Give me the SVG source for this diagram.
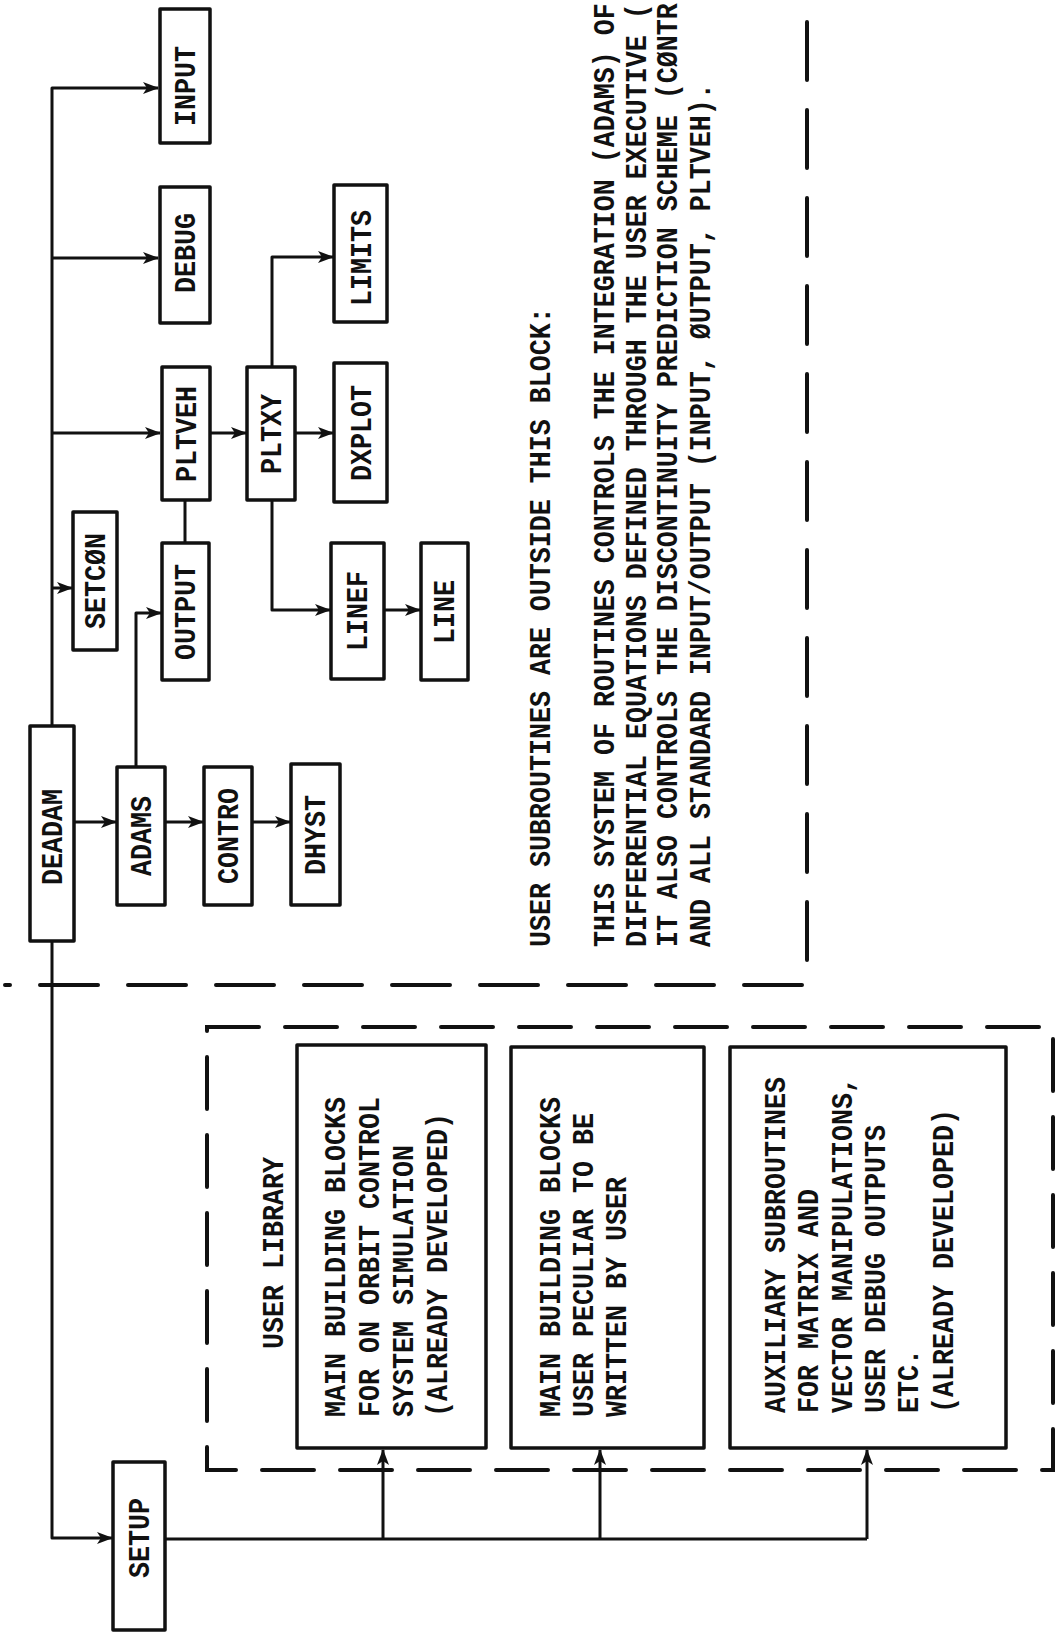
<svg xmlns="http://www.w3.org/2000/svg" width="1058" height="1635" viewBox="0 0 1058 1635">
<style>
.bg{fill:#ffffff}
.box{fill:#ffffff;stroke:#111;stroke-width:3.5;stroke-linejoin:round}
.ln{fill:none;stroke:#111;stroke-width:3;stroke-linejoin:round}
.dash{fill:none;stroke:#111;stroke-width:4;stroke-linecap:round;stroke-dasharray:58 30}
.dash2{fill:none;stroke:#111;stroke-width:4;stroke-linecap:round;stroke-dasharray:52 26}
.t{font-family:"Liberation Mono","DejaVu Sans Mono",monospace;font-size:26.667px;font-weight:bold;fill:#111}
.c{text-anchor:middle}
</style>
<defs>
<marker id="ah" markerUnits="userSpaceOnUse" markerWidth="16" markerHeight="12" refX="15" refY="6" orient="auto">
<path d="M0,0 L16,6 L0,12 L4,6 z" fill="#111"/>
</marker>
</defs>
<rect class="bg" x="0" y="0" width="1058" height="1635"/>

<g id="boundaries">
<path class="dash" d="M807,22 V985 H5"/>
<rect class="dash2" x="207" y="1027" width="846" height="443"/>
</g>

<g id="connectors">
<path class="ln" d="M52,726 V88 H158" marker-end="url(#ah)"/>
<path class="ln" d="M52,258 H158" marker-end="url(#ah)"/>
<path class="ln" d="M52,433 H160" marker-end="url(#ah)"/>
<path class="ln" d="M52,588 H72" marker-end="url(#ah)"/>
<path class="ln" d="M52,941 V1538 H112" marker-end="url(#ah)"/>
<path class="ln" d="M74,822 H116" marker-end="url(#ah)"/>
<path class="ln" d="M165,822 H203" marker-end="url(#ah)"/>
<path class="ln" d="M252,822 H290" marker-end="url(#ah)"/>
<path class="ln" d="M136,767 V613 H161" marker-end="url(#ah)"/>
<path class="ln" d="M185,543 V500"/>
<path class="ln" d="M210,433 H246" marker-end="url(#ah)"/>
<path class="ln" d="M272,367 V257 H333" marker-end="url(#ah)"/>
<path class="ln" d="M295,433 H333" marker-end="url(#ah)"/>
<path class="ln" d="M272,500 V610 H330" marker-end="url(#ah)"/>
<path class="ln" d="M384,610 H420" marker-end="url(#ah)"/>
<path class="ln" d="M165,1539 H867"/>
<path class="ln" d="M383,1539 V1450" marker-end="url(#ah)"/>
<path class="ln" d="M600,1539 V1450" marker-end="url(#ah)"/>
<path class="ln" d="M867,1539 V1450" marker-end="url(#ah)"/>
</g>

<g id="node-input"><rect class="box" x="160" y="9" width="50" height="134"/><text class="t c" transform="translate(195,86) rotate(-90) scale(1,1.13)">INPUT</text></g>
<g id="node-debug"><rect class="box" x="160" y="187" width="50" height="136"/><text class="t c" transform="translate(195,253) rotate(-90) scale(1,1.13)">DEBUG</text></g>
<g id="node-pltveh"><rect class="box" x="162" y="367" width="48" height="133"/><text class="t c" transform="translate(196,434) rotate(-90) scale(1,1.13)">PLTVEH</text></g>
<g id="node-pltxy"><rect class="box" x="247" y="367" width="48" height="133"/><text class="t c" transform="translate(281,434) rotate(-90) scale(1,1.13)">PLTXY</text></g>
<g id="node-limits"><rect class="box" x="334" y="185" width="53" height="137"/><text class="t c" transform="translate(371,258) rotate(-90) scale(1,1.13)">LIMITS</text></g>
<g id="node-dxplot"><rect class="box" x="334" y="363" width="53" height="139"/><text class="t c" transform="translate(371,433) rotate(-90) scale(1,1.13)">DXPLOT</text></g>
<g id="node-setcon"><rect class="box" x="73" y="512" width="44" height="138"/><text class="t c" transform="translate(105,581) rotate(-90) scale(1,1.13)">SETCØN</text></g>
<g id="node-output"><rect class="box" x="162" y="543" width="47" height="137"/><text class="t c" transform="translate(195,612) rotate(-90) scale(1,1.13)">OUTPUT</text></g>
<g id="node-linef"><rect class="box" x="331" y="543" width="53" height="136"/><text class="t c" transform="translate(367,611) rotate(-90) scale(1,1.13)">LINEF</text></g>
<g id="node-line"><rect class="box" x="421" y="543" width="47" height="137"/><text class="t c" transform="translate(454,612) rotate(-90) scale(1,1.13)">LINE</text></g>
<g id="node-deadam"><rect class="box" x="30" y="726" width="44" height="215"/><text class="t c" transform="translate(62,837) rotate(-90) scale(1,1.13)">DEADAM</text></g>
<g id="node-adams"><rect class="box" x="117" y="767" width="48" height="138"/><text class="t c" transform="translate(151,836) rotate(-90) scale(1,1.13)">ADAMS</text></g>
<g id="node-contro"><rect class="box" x="204" y="767" width="48" height="138"/><text class="t c" transform="translate(238,836) rotate(-90) scale(1,1.13)">CONTRO</text></g>
<g id="node-dhyst"><rect class="box" x="291" y="764" width="49" height="141"/><text class="t c" transform="translate(325,835) rotate(-90) scale(1,1.13)">DHYST</text></g>
<g id="node-setup"><rect class="box" x="113" y="1462" width="52" height="168"/><text class="t c" transform="translate(149,1538) rotate(-90) scale(1,1.13)">SETUP</text></g>

<g id="node-library-label"><text class="t" transform="translate(283,1349) rotate(-90) scale(1,1.13)">USER LIBRARY</text></g>

<g id="node-lib1"><rect class="box" x="297" y="1045" width="189" height="403"/>
<text class="t" transform="translate(345,1417) rotate(-90) scale(1,1.13)">MAIN BUILDING BLOCKS</text>
<text class="t" transform="translate(379,1417) rotate(-90) scale(1,1.13)">FOR ON ORBIT CONTROL</text>
<text class="t" transform="translate(413,1417) rotate(-90) scale(1,1.13)">SYSTEM SIMULATION</text>
<text class="t" transform="translate(447,1417) rotate(-90) scale(1,1.13)">(ALREADY DEVELOPED)</text>
</g>
<g id="node-lib2"><rect class="box" x="511" y="1047" width="193" height="401"/>
<text class="t" transform="translate(560,1417) rotate(-90) scale(1,1.13)">MAIN BUILDING BLOCKS</text>
<text class="t" transform="translate(593,1417) rotate(-90) scale(1,1.13)">USER PECULIAR TO BE</text>
<text class="t" transform="translate(626,1417) rotate(-90) scale(1,1.13)">WRITTEN BY USER</text>
</g>
<g id="node-lib3"><rect class="box" x="730" y="1047" width="276" height="401"/>
<text class="t" transform="translate(785,1413) rotate(-90) scale(1,1.13)">AUXILIARY SUBROUTINES</text>
<text class="t" transform="translate(818,1413) rotate(-90) scale(1,1.13)">FOR MATRIX AND</text>
<text class="t" transform="translate(852,1413) rotate(-90) scale(1,1.13)">VECTOR MANIPULATIONS,</text>
<text class="t" transform="translate(885,1413) rotate(-90) scale(1,1.13)">USER DEBUG OUTPUTS</text>
<text class="t" transform="translate(918,1413) rotate(-90) scale(1,1.13)">ETC.</text>
<text class="t" transform="translate(953,1413) rotate(-90) scale(1,1.13)">(ALREADY DEVELOPED)</text>
</g>

<g id="note">
<text class="t" transform="translate(550,947) rotate(-90) scale(1,1.13)">USER SUBROUTINES ARE OUTSIDE THIS BLOCK:</text>
<text class="t" transform="translate(614,947) rotate(-90) scale(1,1.13)">THIS SYSTEM OF ROUTINES CONTROLS THE INTEGRATION (ADAMS) OF</text>
<text class="t" transform="translate(646,947) rotate(-90) scale(1,1.13)">DIFFERENTIAL EQUATIONS DEFINED THROUGH THE USER EXECUTIVE (</text>
<text class="t" transform="translate(677,947) rotate(-90) scale(1,1.13)">IT ALSO CONTROLS THE DISCONTINUITY PREDICTION SCHEME (CØNTR</text>
<text class="t" transform="translate(710,947) rotate(-90) scale(1,1.13)">AND ALL STANDARD INPUT/OUTPUT (INPUT, ØUTPUT, PLTVEH).</text>
</g>
</svg>
